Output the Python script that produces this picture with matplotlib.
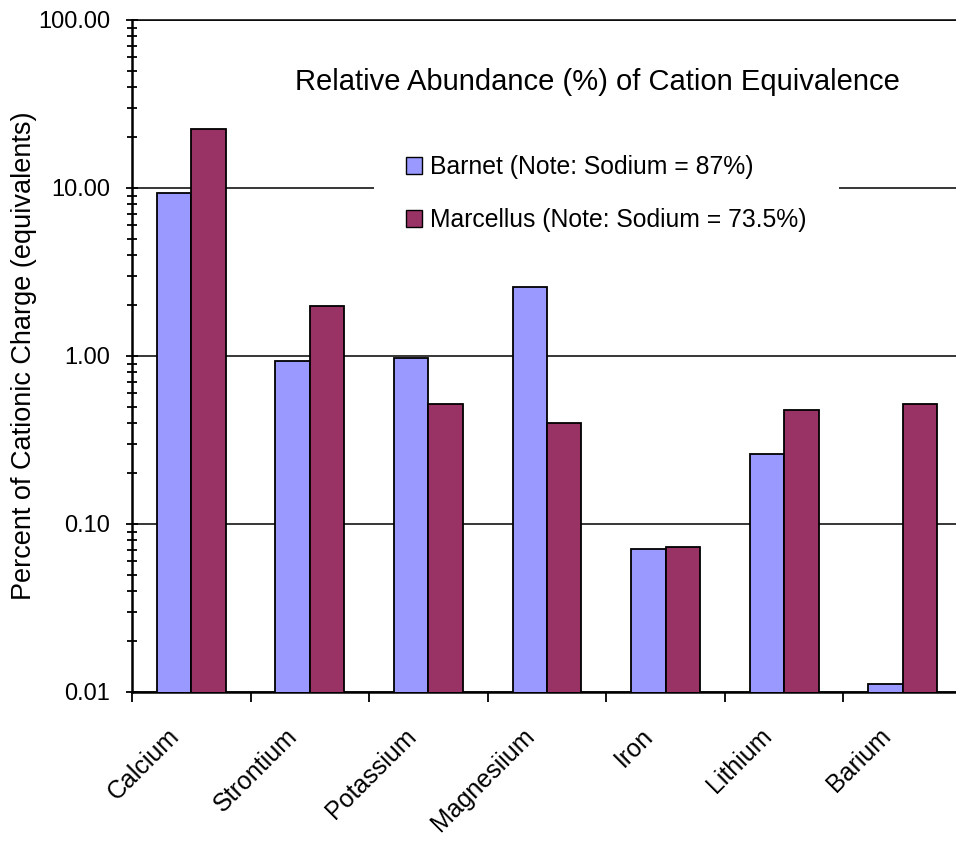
import numpy as np
import matplotlib
matplotlib.use('Agg')
import matplotlib.pyplot as plt
import matplotlib.transforms as mtransforms
from matplotlib.ticker import FormatStrFormatter, LogLocator, NullFormatter
from matplotlib.patches import Patch

plt.rcParams['font.family'] = ['Liberation Sans', 'DejaVu Sans']

# cation equivalents (% of cationic charge)
elements = ['Calcium', 'Strontium', 'Potassium', 'Magnesiium', 'Iron', 'Lithium', 'Barium']
barnet = [9.4, 0.93, 0.97, 2.58, 0.071, 0.26, 0.0112]
marcellus = [22.4, 1.99, 0.52, 0.40, 0.073, 0.48, 0.52]

barnet_label = 'Barnet (Note: Sodium = 87%)'
marcellus_label = 'Marcellus (Note: Sodium = 73.5%)'
c_barnet = '#9999FF'
c_marcellus = '#993366'

fig = plt.figure(figsize=(9.56, 8.44), dpi=100)
ax = fig.add_axes([132 / 956, 1 - 692 / 844, 830 / 956, 672 / 844])

x = np.arange(len(elements))
w = 0.29
ax.bar(x - w / 2, barnet, w, color=c_barnet, edgecolor='black', linewidth=1.3, zorder=3)
ax.bar(x + w / 2, marcellus, w, color=c_marcellus, edgecolor='black', linewidth=1.3, zorder=3)

ax.set_yscale('log')
ax.set_ylim(0.01, 100)
ax.set_xlim(-0.5, len(elements) - 0.5)
ax.yaxis.set_major_locator(LogLocator(base=10, numticks=10))
ax.yaxis.set_major_formatter(FormatStrFormatter('%.2f'))
ax.yaxis.set_minor_locator(LogLocator(base=10, subs=np.arange(2, 10), numticks=20))
ax.yaxis.set_minor_formatter(NullFormatter())
ax.tick_params(axis='y', which='major', direction='inout', length=9, width=1.3, labelsize=17, pad=11)
ax.tick_params(axis='y', which='minor', direction='inout', length=6.5, width=1.3)
ax.grid(axis='y', which='major', color='black', linewidth=1.1)
ax.set_axisbelow(True)

# category boundary ticks, labels on the centres
ax.set_xticks(np.arange(len(elements) + 1) - 0.5)
ax.set_xticklabels([])
ax.set_xticks(x, minor=True)
ax.set_xticklabels(elements, minor=True, rotation=45, ha='right', va='center',
                   rotation_mode='anchor', fontsize=18)
ax.tick_params(axis='x', which='major', direction='out', length=7, width=1.3)
ax.tick_params(axis='x', which='minor', length=0, pad=29)
shift = mtransforms.ScaledTranslation(-0.16, 0, fig.dpi_scale_trans)
for lbl in ax.get_xticklabels(minor=True):
    lbl.set_transform(lbl.get_transform() + shift)

ax.spines['right'].set_visible(False)
ax.spines['top'].set_linewidth(1.1)
ax.spines['left'].set_linewidth(1.8)
ax.spines['bottom'].set_linewidth(1.8)

ax.set_ylabel('Percent of Cationic Charge (equivalents)', fontsize=19.5)
ax.yaxis.set_label_coords(-0.1145, 0.5)

ax.text(0.561, 0.908, 'Relative Abundance (%) of Cation Equivalence', transform=ax.transAxes,
        ha='center', va='center', fontsize=21)

handles = [Patch(facecolor=c_barnet, edgecolor='black'), Patch(facecolor=c_marcellus, edgecolor='black')]
leg = ax.legend(handles, [barnet_label, marcellus_label], loc='upper left',
                bbox_to_anchor=(0.277, 0.865), fontsize=17.8, frameon=True, fancybox=False,
                framealpha=1, facecolor='white', edgecolor='none', borderpad=1.3,
                handlelength=0.65, handleheight=0.65, handletextpad=0.3, labelspacing=1.17)

fig.savefig('out.png', dpi=100)
